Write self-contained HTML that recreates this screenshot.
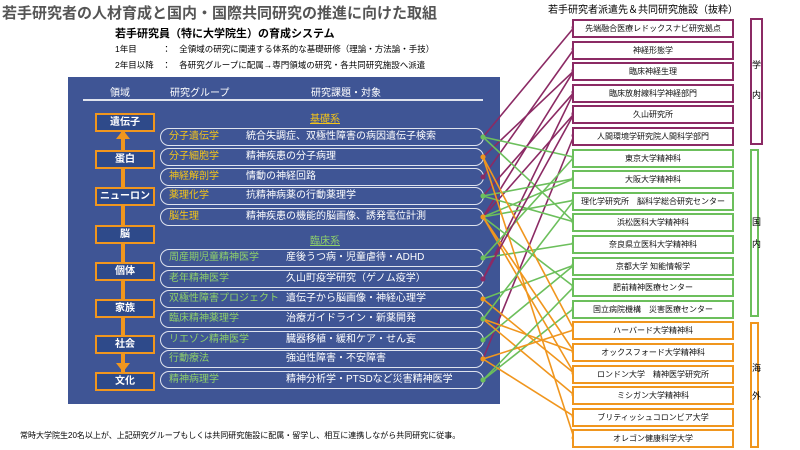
<!DOCTYPE html>
<html><head><meta charset="utf-8"><style>
body{margin:0;width:800px;height:450px;background:#fff;position:relative;overflow:hidden;font-family:"Liberation Sans","Noto Sans CJK JP",sans-serif}
.a{position:absolute;white-space:nowrap}
.panel{position:absolute;left:68px;top:77px;width:432px;height:327px;background:#3f5595}
.lb{position:absolute;left:95px;width:56px;height:15px;border:2px solid #f0961e;background:#2e4a8a;color:#fff;font-size:10px;font-weight:bold;text-align:center;line-height:15px}
.pill{position:absolute;left:160px;width:322px;height:16px;border:1px solid #dfe3ee;border-radius:9px;font-size:10px;line-height:16px;color:#fff}
.pill b{position:absolute;left:8px;font-weight:normal}
.pill i{position:absolute;font-style:normal}
.rb{position:absolute;left:572px;width:158px;height:15px;border:2px solid;background:#fff;font-size:8px;text-align:center;line-height:15px;color:#111}
.cat{position:absolute;left:750px;width:9px;border:2px solid;font-size:9px;text-align:center}
</style></head><body>
<div class="a" style="left:2px;top:2px;font-size:15px;font-weight:bold;color:#555">若手研究者の人材育成と国内・国際共同研究の推進に向けた取組</div>
<div class="a" style="left:115px;top:25px;font-size:11px;font-weight:bold">若手研究員（特に大学院生）の育成システム</div>
<div class="a" style="left:115px;top:43px;font-size:8.5px">1年目　　　：　全領域の研究に関連する体系的な基礎研修（理論・方法論・手技）</div>
<div class="a" style="left:115px;top:59px;font-size:8.5px">2年目以降　：　各研究グループに配属→専門領域の研究・各共同研究施設へ派遣</div>
<div class="a" style="left:548px;top:1px;font-size:10px">若手研究者派遣先＆共同研究施設（抜粋）</div>
<div class="panel"></div>
<div class="a" style="left:110px;top:84px;font-size:10px;color:#fff">領域</div>
<div class="a" style="left:170px;top:84px;font-size:10px;color:#fff">研究グループ</div>
<div class="a" style="left:311px;top:84px;font-size:10px;color:#fff">研究課題・対象</div>
<div class="a" style="left:83px;top:99px;width:400px;height:2px;background:#dfe3ee"></div>
<div class="a" style="left:121px;top:130px;width:4px;height:245px;background:#f0961e"></div>
<div class="a" style="left:116px;top:130px;width:0;height:0;border-left:7px solid transparent;border-right:7px solid transparent;border-bottom:9px solid #f0961e"></div>
<div class="a" style="left:116px;top:363px;width:0;height:0;border-left:7px solid transparent;border-right:7px solid transparent;border-top:9px solid #f0961e"></div>
<div class="lb" style="top:113px">遺伝子</div>
<div class="lb" style="top:150px">蛋白</div>
<div class="lb" style="top:187px">ニューロン</div>
<div class="lb" style="top:225px">脳</div>
<div class="lb" style="top:262px">個体</div>
<div class="lb" style="top:299px">家族</div>
<div class="lb" style="top:335px">社会</div>
<div class="lb" style="top:372px">文化</div>
<div class="a" style="left:310px;top:110px;font-size:10px;color:#f5c518;text-decoration:underline">基礎系</div>
<div class="a" style="left:310px;top:232px;font-size:10px;color:#8fd16a;text-decoration:underline">臨床系</div>
<div id="pills"></div>
<svg class="a" style="left:0;top:0" width="800" height="450" id="sv"></svg>
<div id="rbs"></div>
<div class="cat" style="top:18px;height:123px;border-color:#8b2a64;line-height:30px;padding-top:30px;box-sizing:content-box;height:93px">学<br>内</div>
<div class="cat" style="top:149px;height:168px;border-color:#6cbf5c;box-sizing:border-box;padding-top:60px;line-height:22px">国<br>内</div>
<div class="cat" style="top:322px;height:126px;border-color:#f0961e;box-sizing:border-box;padding-top:30px;line-height:28px">海<br>外</div>
<div class="a" style="left:20px;top:430px;font-size:8px">常時大学院生20名以上が、上記研究グループもしくは共同研究施設に配属・留学し、相互に連携しながら共同研究に従事。</div>
<script>
var P=[["分子遺伝学","統合失調症、双極性障害の病因遺伝子検索",137,"#f5c518",245],["分子細胞学","精神疾患の分子病理",157,"#f5c518",245],["神経解剖学","情動の神経回路",177,"#f5c518",245],["薬理化学","抗精神病薬の行動薬理学",196,"#f5c518",245],["脳生理","精神疾患の機能的脳画像、誘発電位計測",217,"#f5c518",245],
["周産期児童精神医学","産後うつ病・児童虐待・ADHD",258,"#8fd16a",285],["老年精神医学","久山町疫学研究（ゲノム疫学）",279,"#8fd16a",285],["双極性障害プロジェクト","遺伝子から脳画像・神経心理学",299,"#8fd16a",285],["臨床精神薬理学","治療ガイドライン・新薬開発",319,"#8fd16a",285],["リエゾン精神医学","臓器移植・緩和ケア・せん妄",340,"#8fd16a",285],["行動療法","強迫性障害・不安障害",359,"#8fd16a",285],["精神病理学","精神分析学・PTSDなど災害精神医学",380,"#8fd16a",285]];
var h="";P.forEach(function(p){h+='<div class="pill" style="top:'+(p[2]-9)+'px"><b style="color:'+p[3]+'">'+p[0]+'</b><i style="left:'+(p[4]-160)+'px">'+p[1]+'</i></div>'});
document.getElementById("pills").innerHTML=h;
var R=["先端融合医療レドックスナビ研究拠点","神経形態学","臨床神経生理","臨床放射線科学神経部門","久山研究所","人間環境学研究院人間科学部門","東京大学精神科","大阪大学精神科","理化学研究所　脳科学総合研究センター","浜松医科大学精神科","奈良県立医科大学精神科","京都大学 知能情報学","肥前精神医療センター","国立病院機構　災害医療センター","ハーバード大学精神科","オックスフォード大学精神科","ロンドン大学　精神医学研究所","ミシガン大学精神科","ブリティッシュコロンビア大学","オレゴン健康科学大学"];
var C=function(i){return i<6?"#8b2a64":i<14?"#6cbf5c":"#f0961e"};
h="";R.forEach(function(r,i){h+='<div class="rb" style="top:'+(19+21.6*i)+'px;border-color:'+C(i)+'">'+r+'</div>'});
document.getElementById("rbs").innerHTML=h;
var L=[[0,0],[2,1],[4,2],[6,3],[4,4],[10,5],[1,2],[3,3],[0,6],[3,7],[4,7],[4,8],[0,9],[5,10],[7,11],[4,12],[11,13],[9,11],[3,9],[1,14],[4,15],[7,16],[8,17],[10,18],[1,19],[4,16],[8,15],[10,14],[11,12],[5,6],[8,8],[6,4]];
var s="";L.forEach(function(l){var y1=P[l[0]][2],y2=27.5+21.6*l[1],c=C(l[1]);s+='<line x1="483" y1="'+y1+'" x2="574" y2="'+y2+'" stroke="'+c+'" stroke-width="1.6"/><circle cx="483" cy="'+y1+'" r="2.5" fill="'+c+'"/><circle cx="574" cy="'+y2+'" r="2.5" fill="'+c+'"/>'});
document.getElementById("sv").innerHTML=s;
</script>
</body></html>
